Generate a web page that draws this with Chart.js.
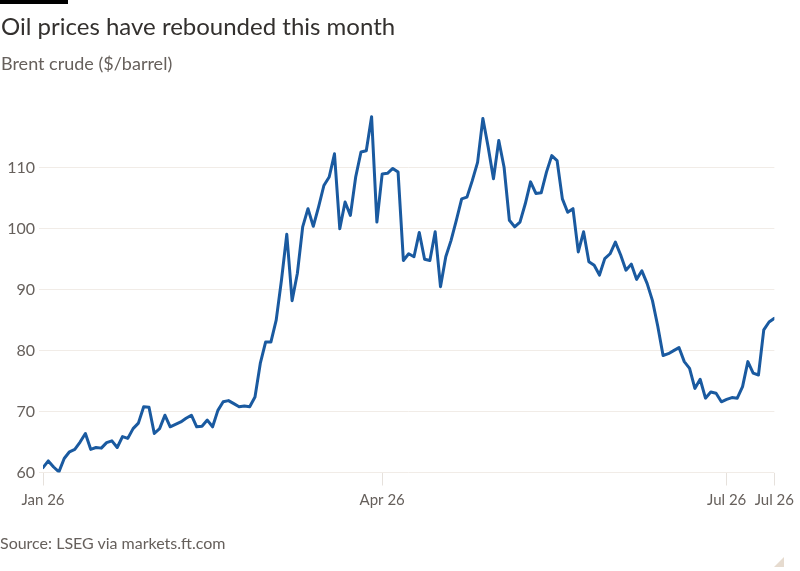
<!DOCTYPE html>
<html>
<head>
<meta charset="utf-8">
<script src="https://cdn.jsdelivr.net/npm/chart.js@4"></script>
<style>
  html, body { margin: 0; padding: 0; background: #fff; }
  body { width: 800px; height: 571px; position: relative; overflow: hidden; font-family: Lato, sans-serif; }
  #chart { position: absolute; left: 0; top: 0; }
  .bar { position: absolute; left: 0; top: 0; width: 68px; height: 4px; background: #000; }
  h1 { position: absolute; left: 1px; top: 14px; margin: 0; font-size: 24px; font-weight: 400; color: #33302e; line-height: 1; }
  .sub { position: absolute; left: 1px; top: 54px; font-size: 18px; color: #66605c; line-height: 1; }
  .src { position: absolute; left: 0; top: 535px; font-size: 16px; color: #66605c; line-height: 1; }
  .curl { position: absolute; right: 16px; bottom: 4px; width: 0; height: 0;
          border-left: 10px solid transparent; border-bottom: 10px solid #e6dbcf; }
</style>
</head>
<body>
<canvas id="chart" width="800" height="571"></canvas>
<div class="bar"></div>
<h1>Oil prices have rebounded this month</h1>
<div class="sub">Brent crude ($/barrel)</div>
<div class="src">Source: LSEG via markets.ft.com</div>
<div class="curl"></div>
<script>
// Brent crude, daily close ($/barrel)
const prices = [
  60.8, 61.9, 60.9, 60.1, 62.3, 63.4, 63.8, 65.0, 66.4, 63.8,
  64.1, 64.0, 64.9, 65.2, 64.1, 65.9, 65.6, 67.2, 68.1, 70.8,
  70.7, 66.4, 67.2, 69.4, 67.5, 67.9, 68.3, 68.9, 69.4, 67.5,
  67.6, 68.6, 67.5, 70.2, 71.6, 71.8, 71.3, 70.8, 70.9, 70.8,
  72.4, 77.9, 81.4, 81.4, 85.0, 91.6, 99.1, 88.2, 92.7, 100.3,
  103.3, 100.4, 103.6, 107.1, 108.5, 112.3, 100.0, 104.4, 102.2, 108.5,
  112.6, 112.8, 118.4, 101.1, 109.0, 109.1, 109.9, 109.3, 94.8, 95.9,
  95.4, 99.4, 95.0, 94.8, 99.5, 90.5, 95.4, 98.1, 101.4, 104.9,
  105.2, 107.9, 110.9, 118.1, 113.4, 108.2, 114.5, 110.1, 101.4, 100.3,
  101.1, 104.1, 107.7, 105.8, 105.9, 109.3, 112.0, 111.2, 104.9, 102.7,
  103.3, 96.2, 99.5, 94.6, 94.0, 92.4, 95.1, 95.9, 97.8, 95.7,
  93.2, 94.2, 91.7, 93.1, 91.0, 88.2, 84.0, 79.2, 79.5, 80.0,
  80.5, 78.2, 77.1, 73.8, 75.3, 72.2, 73.2, 73.0, 71.6, 72.0,
  72.3, 72.2, 74.1, 78.2, 76.3, 76.0, 83.4, 84.7, 85.3
];

// x-axis labels and the trading day each one sits on
const dateLabels = ['Jan 26', 'Apr 26', 'Jul 26', 'Jul 26'];
const dateIndex = [0, 64, 129, 138];

const yTicks = [60, 70, 80, 90, 100, 110];

const ctx = document.getElementById('chart').getContext('2d');
new Chart(ctx, {
  type: 'line',
  data: {
    datasets: [{
      data: prices.map((v, i) => ({ x: i, y: v })),
      borderColor: '#1a5aa0',
      borderWidth: 3,
      pointRadius: 0,
      tension: 0,
      borderJoinStyle: 'round',
      borderCapStyle: 'round'
    }]
  },
  options: {
    responsive: false,
    animation: false,
    layout: { padding: { top: 113, right: 25, left: 0, bottom: 0 } },
    plugins: {
      legend: { display: false },
      tooltip: { enabled: false }
    },
    scales: {
      x: {
        type: 'linear',
        min: 0,
        max: prices.length - 1,
        afterBuildTicks: s => { s.ticks = dateIndex.map(v => ({ value: v })); },
        afterFit: s => { s.height = 98.5; },
        border: { display: false },
        grid: { drawOnChartArea: false, drawTicks: true, tickLength: 13, color: '#e6e1dc' },
        ticks: {
          autoSkip: false,
          maxRotation: 0,
          padding: 6,
          color: '#66605c',
          font: { family: 'Lato', size: 15 },
          callback: (v, i) => dateLabels[i]
        }
      },
      y: {
        min: 60,
        max: 119,
        afterBuildTicks: s => { s.ticks = yTicks.map(v => ({ value: v })); },
        afterFit: s => { s.width = 43; },
        border: { display: false },
        grid: { color: '#f1ece7', tickLength: 4 },
        ticks: {
          padding: 4,
          color: '#66605c',
          font: { family: 'Lato', size: 16 }
        }
      }
    }
  }
});
</script>
</body>
</html>
